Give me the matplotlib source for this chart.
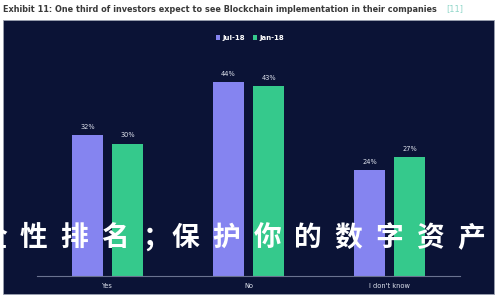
import numpy as np
import matplotlib
matplotlib.use('Agg')
import matplotlib.pyplot as plt
from matplotlib.patches import Rectangle

categories = ['Yes', 'No', "I don't know"]
series_names = ['Jul-18', 'Jan-18']
jul_18 = [32, 44, 24]
jan_18 = [30, 43, 27]

title = 'Exhibit 11: One third of investors expect to see Blockchain implementation in their companies'
overlay = '全性排名；保护你的数字资产安'

W, H = 500, 300
NAVY = '#0b1336'
PURPLE = '#8584f0'
GREEN = '#35c98c'

plt.rcParams['font.family'] = ['DejaVu Sans']

fig = plt.figure(figsize=(W / 100, H / 100), dpi=100)
fig.patch.set_facecolor('white')

# dark panel behind the chart
fig.patches.append(Rectangle((3 / W, 1 - 294 / H), 491 / W, 274 / H,
                             transform=fig.transFigure, facecolor=NAVY,
                             edgecolor='#9aa0b0', linewidth=0.6, zorder=-5))

fig.text(3 / W, 1 - 9 / H, title, fontsize=5.9, fontweight='bold',
         color='#3a3a3a', va='center', ha='left')
fig.text(446 / W, 1 - 9 / H, '[11]', fontsize=5.9, color='#8fd6c8',
         va='center', ha='left')

ax = fig.add_axes([37 / W, 1 - 276 / H, 423 / W, 216 / H])
ax.set_facecolor('none')
ax.set_zorder(1)
x = np.arange(len(categories))
width = 0.22
off = 0.142
b1 = ax.bar(x - off, jul_18, width, color=PURPLE, label=series_names[0], zorder=2)
b2 = ax.bar(x + off, jan_18, width, color=GREEN, label=series_names[1], zorder=2)
for bars, vals in ((b1, jul_18), (b2, jan_18)):
    for r, v in zip(bars, vals):
        ax.text(r.get_x() + r.get_width() / 2, v + 1.2, f'{v}%',
                ha='center', va='bottom', fontsize=4.8, color='#dfe3ee')

ax.set_xlim(-0.5, 2.5)
ax.set_ylim(0, 49)
ax.set_yticks([])
ax.set_xticks(x)
ax.set_xticklabels(categories, fontsize=4.8, color='#dfe3ee')
ax.tick_params(axis='x', length=0, pad=5)
for s in ['top', 'right', 'left']:
    ax.spines[s].set_visible(False)
ax.spines['bottom'].set_color('#6a7290')
ax.spines['bottom'].set_linewidth(0.8)

leg = fig.legend(loc='center', bbox_to_anchor=(250 / W, 1 - 38 / H), ncol=2,
                 frameon=False, fontsize=5, handlelength=0.6, handleheight=0.6,
                 handletextpad=0.3, columnspacing=1.2)
for t in leg.get_texts():
    t.set_color('white')
    t.set_fontweight('bold')

# watermark characters, spread out like the brush lettering
cx = -7.0
for ch in overlay:
    step = 30 if ch == '；' else 40.7
    fig.text(cx / W, 1 - 238 / H, ch, fontsize=20, fontweight='bold',
             color='white', ha='center', va='center', zorder=10,
             family=['Noto Sans CJK SC', 'DejaVu Sans'])
    cx += step

fig.savefig('out.png', dpi=100, facecolor='white')
